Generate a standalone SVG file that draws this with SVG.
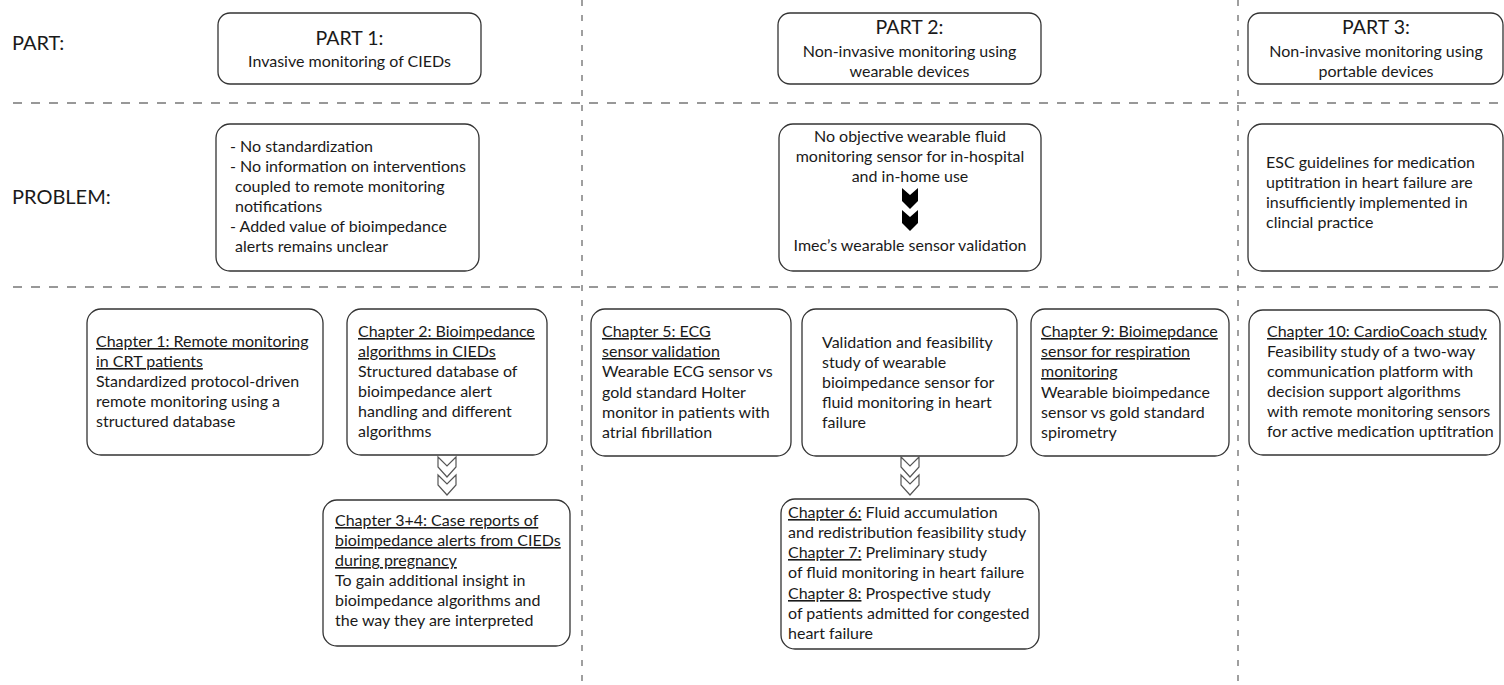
<svg xmlns="http://www.w3.org/2000/svg" width="1504" height="685" viewBox="0 0 1504 685">
<style>
text{font-family:Lato,"Liberation Sans",sans-serif;fill:#1a1a1a;font-size:16px}
.lbl{font-size:20px}
.ttl{font-size:19.5px}
.c{text-anchor:middle}
.u{text-decoration:underline}
.box{fill:#fff;stroke:#333;stroke-width:1.3}
.hd{stroke:#777;stroke-width:1.4;stroke-dasharray:9 9;fill:none}
.vd{stroke:#777;stroke-width:1.4;stroke-dasharray:6 9;fill:none}
.chevO{fill:#fff;stroke:#555;stroke-width:1.2}
.chevB{fill:#000}
</style>
<defs>
<polygon id="chv" points="-9,0 0,9 9,0 9,10 0,20 -9,10"/>
<polygon id="chb" points="-8,0 0,7 8,0 8,13 0,21 -8,13"/>
</defs>
<g id="grid">
<line class="hd" x1="13" y1="103" x2="1504" y2="103"/>
<line class="hd" x1="13" y1="287" x2="1504" y2="287"/>
<line class="vd" x1="582" y1="0" x2="582" y2="685"/>
<line class="vd" x1="1238" y1="0" x2="1238" y2="685"/>
</g>
<g id="row-labels">
<text class="lbl" x="12" y="50">PART:</text>
<text class="lbl" x="12" y="204">PROBLEM:</text>
</g>
<g id="part1">
<rect class="box" x="218" y="13" width="263" height="71" rx="12"/>
<text class="ttl c" x="349.5" y="45">PART 1:</text>
<text class="c" x="349.5" y="67">Invasive monitoring of CIEDs</text>
</g>
<g id="part2">
<rect class="box" x="778" y="13" width="263" height="71" rx="12"/>
<text class="ttl c" x="909.5" y="34">PART 2:</text>
<text class="c" x="909.5" y="57">Non-invasive monitoring using</text>
<text class="c" x="909.5" y="77">wearable devices</text>
</g>
<g id="part3">
<rect class="box" x="1248" y="13" width="255" height="71" rx="12"/>
<text class="ttl c" x="1376" y="34">PART 3:</text>
<text class="c" x="1376" y="57">Non-invasive monitoring using</text>
<text class="c" x="1376" y="77">portable devices</text>
</g>
<g id="problem1">
<rect class="box" x="216" y="124" width="263" height="147" rx="14"/>
<text x="230" y="152">- No standardization</text>
<text x="230" y="172">- No information on interventions</text>
<text x="235" y="192">coupled to remote monitoring</text>
<text x="235" y="212">notifications</text>
<text x="230" y="232">- Added value of bioimpedance</text>
<text x="235" y="252">alerts remains unclear</text>
</g>
<g id="problem2">
<rect class="box" x="779" y="124" width="262" height="147" rx="14"/>
<text class="c" x="910" y="142">No objective wearable fluid</text>
<text class="c" x="910" y="162">monitoring sensor for in-hospital</text>
<text class="c" x="910" y="182">and in-home use</text>
<use href="#chb" class="chevB" x="910" y="188"/>
<use href="#chb" class="chevB" x="910" y="210"/>
<text class="c" x="910" y="251">Imec’s wearable sensor validation</text>
</g>
<g id="problem3">
<rect class="box" x="1248" y="124" width="255" height="147" rx="14"/>
<text x="1266" y="168">ESC guidelines for medication</text>
<text x="1266" y="188">uptitration in heart failure are</text>
<text x="1266" y="208">insufficiently implemented in</text>
<text x="1266" y="228">clincial practice</text>
</g>
<g id="chapter1">
<rect class="box" x="87" y="309" width="236" height="146" rx="14"/>
<text x="96" y="347"><tspan class="u">Chapter 1: Remote monitoring</tspan></text>
<text x="96" y="367"><tspan class="u">in CRT patients</tspan></text>
<text x="96" y="387">Standardized protocol-driven</text>
<text x="96" y="407">remote monitoring using a</text>
<text x="96" y="427">structured database</text>
</g>
<g id="chapter2">
<rect class="box" x="347" y="309" width="200" height="146" rx="14"/>
<text x="358" y="337"><tspan class="u">Chapter 2: Bioimpedance</tspan></text>
<text x="358" y="357"><tspan class="u">algorithms in CIEDs</tspan></text>
<text x="358" y="377">Structured database of</text>
<text x="358" y="397">bioimpedance alert</text>
<text x="358" y="417">handling and different</text>
<text x="358" y="437">algorithms</text>
</g>
<g id="chapter3-4">
<rect class="box" x="323" y="500" width="247" height="146" rx="14"/>
<text x="335" y="526"><tspan class="u">Chapter 3+4: Case reports of</tspan></text>
<text x="335" y="546"><tspan class="u">bioimpedance alerts from CIEDs</tspan></text>
<text x="335" y="566"><tspan class="u">during pregnancy</tspan></text>
<text x="335" y="586">To gain additional insight in</text>
<text x="335" y="606">bioimpedance algorithms and</text>
<text x="335" y="626">the way they are interpreted</text>
</g>
<g id="chapter5">
<rect class="box" x="591" y="309" width="200" height="147" rx="14"/>
<text x="602" y="337"><tspan class="u">Chapter 5: ECG</tspan></text>
<text x="602" y="357"><tspan class="u">sensor validation</tspan></text>
<text x="602" y="377">Wearable ECG sensor vs</text>
<text x="602" y="398">gold standard Holter</text>
<text x="602" y="418">monitor in patients with</text>
<text x="602" y="438">atrial fibrillation</text>
</g>
<g id="validation">
<rect class="box" x="802" y="309" width="215" height="147" rx="14"/>
<text x="822" y="348">Validation and feasibility</text>
<text x="822" y="368">study of wearable</text>
<text x="822" y="388">bioimpedance sensor for</text>
<text x="822" y="408">fluid monitoring in heart</text>
<text x="822" y="428">failure</text>
</g>
<g id="chapter9">
<rect class="box" x="1031" y="309" width="198" height="147" rx="14"/>
<text x="1041" y="337"><tspan class="u">Chapter 9: Bioimepdance</tspan></text>
<text x="1041" y="357"><tspan class="u">sensor for respiration</tspan></text>
<text x="1041" y="377"><tspan class="u">monitoring</tspan></text>
<text x="1041" y="398">Wearable bioimpedance</text>
<text x="1041" y="418">sensor vs gold standard</text>
<text x="1041" y="438">spirometry</text>
</g>
<g id="chapter10">
<rect class="box" x="1249" y="310" width="251" height="145" rx="14"/>
<text x="1267" y="337"><tspan class="u">Chapter 10: CardioCoach study</tspan></text>
<text x="1267" y="357">Feasibility study of a two-way</text>
<text x="1267" y="377">communication platform with</text>
<text x="1267" y="397">decision support algorithms</text>
<text x="1267" y="417">with remote monitoring sensors</text>
<text x="1267" y="437">for active medication uptitration</text>
</g>
<g id="chapter6-8">
<rect class="box" x="781" y="499" width="258" height="150" rx="14"/>
<text x="788" y="518"><tspan class="u">Chapter 6:</tspan> Fluid accumulation</text>
<text x="788" y="538">and redistribution feasibility study</text>
<text x="788" y="558"><tspan class="u">Chapter 7:</tspan> Preliminary study</text>
<text x="788" y="578">of fluid monitoring in heart failure</text>
<text x="788" y="599"><tspan class="u">Chapter 8:</tspan> Prospective study</text>
<text x="788" y="619">of patients admitted for congested</text>
<text x="788" y="639">heart failure</text>
</g>
<g id="connectors">
<use href="#chv" class="chevO" x="447" y="457"/>
<use href="#chv" class="chevO" x="447" y="475"/>
<use href="#chv" class="chevO" x="910" y="457"/>
<use href="#chv" class="chevO" x="910" y="475"/>
</g>
</svg>
